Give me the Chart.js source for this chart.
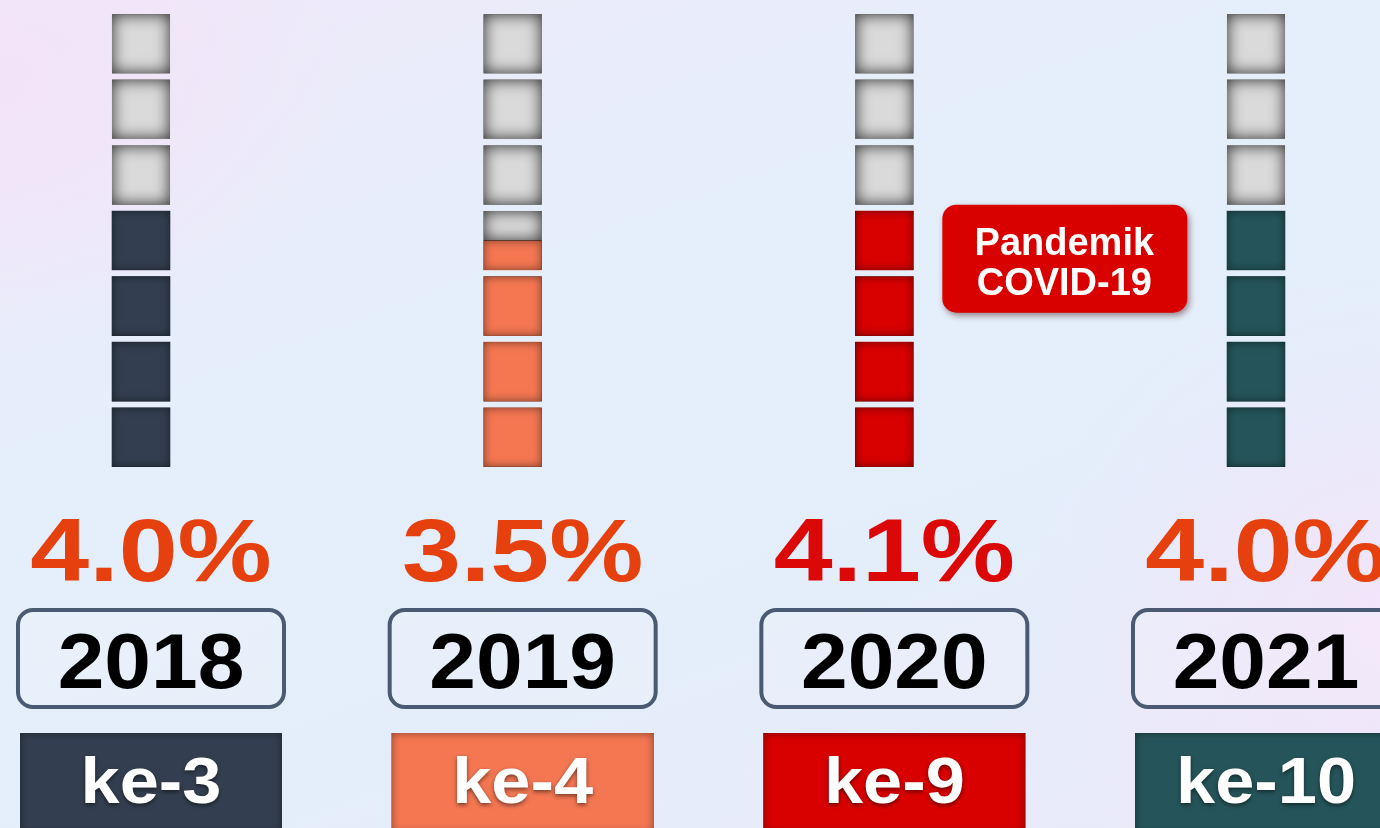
<!DOCTYPE html>
<html lang="id">
  <head>
    <meta charset="UTF-8" />
    <title>Peringkat pertumbuhan</title>
    <script src="https://cdn.jsdelivr.net/npm/chart.js@4"></script>
    <style>
      html, body { margin: 0; padding: 0; }
      body {
        width: 1380px;
        height: 828px;
        overflow: hidden;
        background:
          radial-gradient(ellipse 500px 400px at 0% 10%, rgba(244, 226, 248, 0.9), rgba(244, 226, 248, 0) 70%),
          radial-gradient(ellipse 500px 500px at 100% 75%, rgba(242, 228, 250, 0.9), rgba(242, 228, 250, 0) 70%),
          linear-gradient(160deg, #efe8f9 0%, #e5effb 35%, #e3eefa 65%, #ebe9f9 100%);
      }
      .wrap { position: relative; width: 1380px; height: 828px; }
    </style>
  </head>
  <body>
    <div class="wrap"><canvas id="chart"></canvas></div>

    <script>
      // data
      const years = ["2018", "2019", "2020", "2021"];
      const growth = [4.0, 3.5, 4.1, 4.0];          // pertumbuhan (%)
      const filledBlocks = [4, 3.5, 4, 4];          // kotak terisi
      const totalBlocks = 7;
      const ranks = ["ke-3", "ke-4", "ke-9", "ke-10"];
      const note = ["Pandemik", "COVID-19"];

      // style
      const barColors = ["#333f50", "#f47752", "#d90000", "#25555a"];
      const pctColors = ["#e5400e", "#e5400e", "#dc0808", "#e5400e"];
      const emptyColor = "#dadada";
      const GAP = 0.05;
      const FONT = '"Liberation Sans", Arial, sans-serif';

      // one filled + one empty dataset per block
      const datasets = [];
      for (let i = 0; i < totalBlocks; i++) {
        const lo = i + GAP, hi = i + 1 - GAP;
        datasets.push({
          data: filledBlocks.map(f => {
            const v = Math.min(Math.max(f, lo), hi);
            return v > lo ? [lo, v] : null;
          }),
          backgroundColor: barColors,
        });
        datasets.push({
          data: filledBlocks.map(f => {
            const v = Math.min(Math.max(f, lo), hi);
            return v < hi ? [v, hi] : null;
          }),
          backgroundColor: emptyColor,
        });
      }

      function innerShadow(ctx, x, y, w, h, color, blur) {
        ctx.save();
        ctx.beginPath();
        ctx.rect(x, y, w, h);
        ctx.clip();
        ctx.shadowColor = color;
        ctx.shadowBlur = blur;
        ctx.strokeStyle = "#000";
        ctx.lineWidth = 20;
        ctx.strokeRect(x - 10, y - 10, w + 20, h + 20);
        ctx.restore();
      }

      // text a bit wider than the font, like the original
      function wideText(ctx, text, x, y, sx) {
        ctx.save();
        ctx.translate(x, y);
        ctx.scale(sx, 1);
        ctx.fillText(text, 0, 0);
        ctx.restore();
      }

      const shadePlugin = {
        id: "shade",
        afterDatasetsDraw(chart) {
          const ctx = chart.ctx;
          chart.data.datasets.forEach((ds, di) => {
            chart.getDatasetMeta(di).data.forEach((bar, idx) => {
              if (!ds.data[idx]) return;
              const p = bar.getProps(["x", "y", "base", "width"], true);
              const top = Math.min(p.y, p.base), h = Math.abs(p.base - p.y);
              const empty = di % 2 === 1;
              innerShadow(ctx, p.x - p.width / 2, top, p.width, h,
                empty ? "rgba(0,0,0,0.8)" : "rgba(0,0,0,0.5)", empty ? 16 : 10);
            });
          });
        },
      };

      const labelPlugin = {
        id: "labels",
        afterDraw(chart) {
          const ctx = chart.ctx;
          const xs = chart.scales.x, ys = chart.scales.y;
          ctx.save();
          ctx.textAlign = "center";
          ctx.textBaseline = "alphabetic";
          years.forEach((yr, i) => {
            const cx = xs.getPixelForValue(i) + 10;

            // pertumbuhan
            ctx.fillStyle = pctColors[i];
            ctx.font = "bold 89px " + FONT;
            wideText(ctx, growth[i].toFixed(1) + "%", cx, 581, 1.19);

            // kotak tahun
            ctx.beginPath();
            ctx.roundRect(cx - 133, 610, 266, 97, 15);
            ctx.fillStyle = "rgba(255,255,255,0.15)";
            ctx.fill();
            ctx.lineWidth = 4;
            ctx.strokeStyle = "#4a5a72";
            ctx.stroke();
            ctx.fillStyle = "#000";
            ctx.font = "bold 77px " + FONT;
            wideText(ctx, yr, cx, 688, 1.09);

            // kotak peringkat
            ctx.fillStyle = barColors[i];
            ctx.fillRect(cx - 131, 733, 262, 100);
            innerShadow(ctx, cx - 131, 733, 262, 100, "rgba(0,0,0,0.45)", 8);
            ctx.save();
            ctx.shadowColor = "rgba(0,0,0,0.5)";
            ctx.shadowBlur = 4;
            ctx.shadowOffsetY = 2;
            ctx.fillStyle = "#fff";
            ctx.font = "bold 64px " + FONT;
            wideText(ctx, ranks[i], cx, 803, 1.1);
            ctx.restore();
          });

          // catatan pandemi di samping 2020
          const nx = xs.getPixelForValue(2) + 58;
          const ny = ys.getPixelForValue(4) - 3;
          ctx.save();
          ctx.shadowColor = "rgba(60,0,0,0.45)";
          ctx.shadowBlur = 6;
          ctx.shadowOffsetX = 2;
          ctx.shadowOffsetY = 3;
          ctx.beginPath();
          ctx.roundRect(nx, ny, 245, 108, 14);
          ctx.fillStyle = "#d90000";
          ctx.fill();
          ctx.restore();
          ctx.fillStyle = "#fff";
          ctx.font = "bold 38px " + FONT;
          ctx.fillText(note[0], nx + 122, ny + 50);
          ctx.fillText(note[1], nx + 122, ny + 90);
          ctx.restore();
        },
      };

      new Chart(document.getElementById("chart"), {
        type: "bar",
        data: { labels: years, datasets },
        options: {
          responsive: true,
          maintainAspectRatio: false,
          animation: false,
          layout: { padding: { left: 141, right: 124, top: 11, bottom: 358 } },
          datasets: { bar: { grouped: false, barThickness: 58, clip: false, borderWidth: 0 } },
          plugins: { legend: { display: false }, tooltip: { enabled: false } },
          scales: {
            x: { type: "category", offset: false, display: false },
            y: { min: 0, max: totalBlocks, display: false },
          },
        },
        plugins: [shadePlugin, labelPlugin],
      });
    </script>
  </body>
</html>
